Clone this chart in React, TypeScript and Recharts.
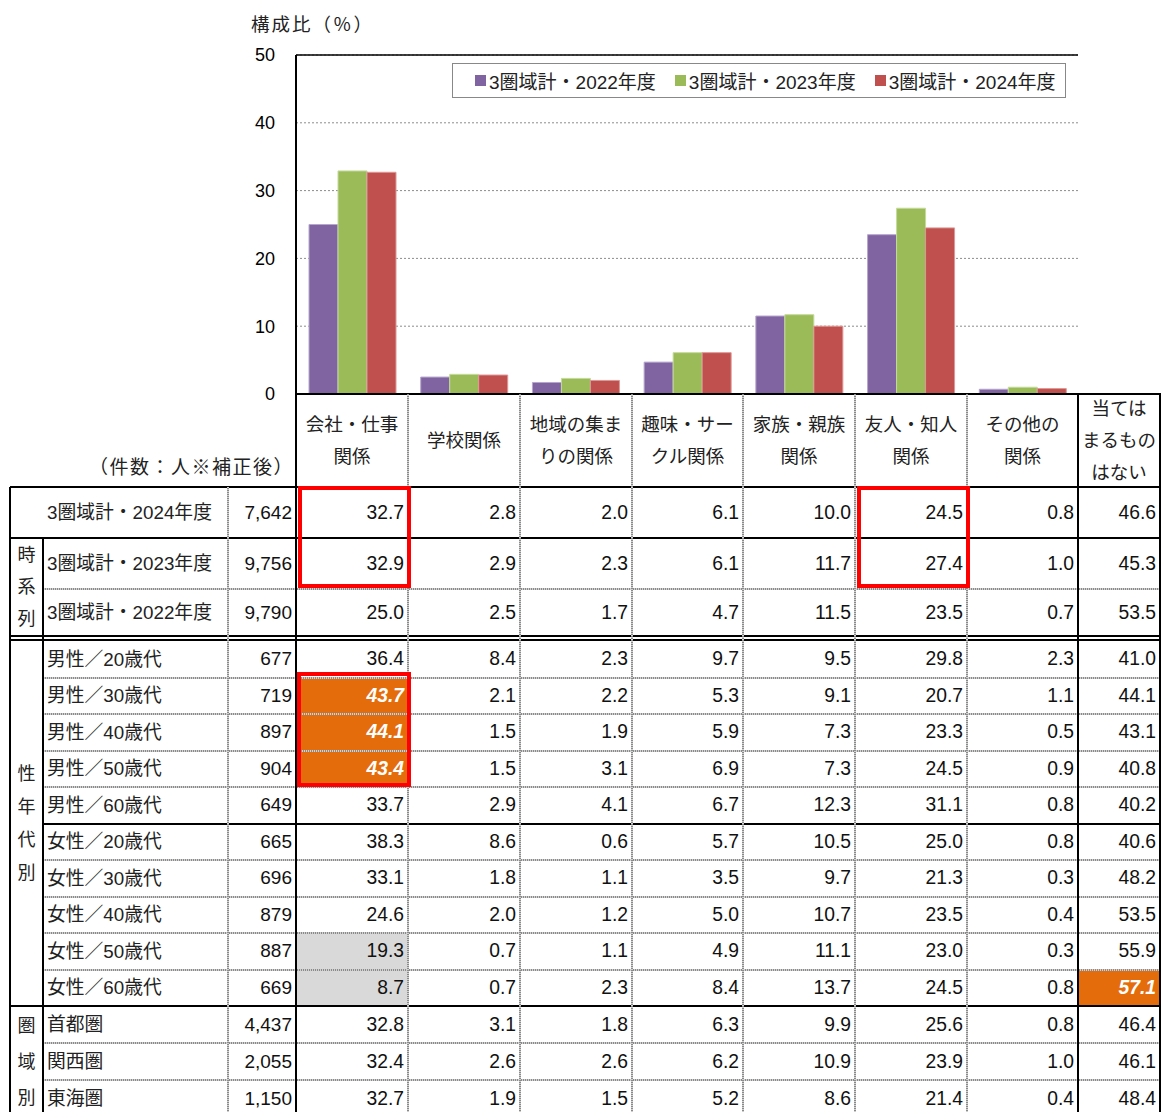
import React from 'react';
import { BarChart, Bar, XAxis, YAxis, CartesianGrid, Legend, ReferenceLine } from 'recharts';

const FONT = '"Liberation Sans", Arial, "Noto Sans CJK JP", sans-serif';

const categories = ['会社・仕事関係', '学校関係', '地域の集まりの関係', '趣味・サークル関係', '家族・親族関係', '友人・知人関係', 'その他の関係'];
const columnHeaders = [
  ['会社・仕事', '関係'],
  ['学校関係'],
  ['地域の集ま', 'りの関係'],
  ['趣味・サー', 'クル関係'],
  ['家族・親族', '関係'],
  ['友人・知人', '関係'],
  ['その他の', '関係'],
  ['当ては', 'まるもの', 'はない'],
];
const seriesNames = ['3圏域計・2022年度', '3圏域計・2023年度', '3圏域計・2024年度'];
const seriesKeys = ['y2022', 'y2023', 'y2024'];
const seriesColors = ['#8064A2', '#9BBB59', '#C0504D'];
const seriesEdges = ['#b7a6cc', '#c4da9c', '#dc9896'];

// 時系列
const trendLabels = ['3圏域計・2024年度', '3圏域計・2023年度', '3圏域計・2022年度'];
const trendCounts = ['7,642', '9,756', '9,790'];
const values2024 = [32.7, 2.8, 2.0, 6.1, 10.0, 24.5, 0.8, 46.6];
const values2023 = [32.9, 2.9, 2.3, 6.1, 11.7, 27.4, 1.0, 45.3];
const values2022 = [25.0, 2.5, 1.7, 4.7, 11.5, 23.5, 0.7, 53.5];

// 性年代別
const ageLabels = ['男性／20歳代', '男性／30歳代', '男性／40歳代', '男性／50歳代', '男性／60歳代', '女性／20歳代', '女性／30歳代', '女性／40歳代', '女性／50歳代', '女性／60歳代'];
const ageCounts = ['677', '719', '897', '904', '649', '665', '696', '879', '887', '669'];
const ageValues = [
  [36.4, 8.4, 2.3, 9.7, 9.5, 29.8, 2.3, 41.0],
  [43.7, 2.1, 2.2, 5.3, 9.1, 20.7, 1.1, 44.1],
  [44.1, 1.5, 1.9, 5.9, 7.3, 23.3, 0.5, 43.1],
  [43.4, 1.5, 3.1, 6.9, 7.3, 24.5, 0.9, 40.8],
  [33.7, 2.9, 4.1, 6.7, 12.3, 31.1, 0.8, 40.2],
  [38.3, 8.6, 0.6, 5.7, 10.5, 25.0, 0.8, 40.6],
  [33.1, 1.8, 1.1, 3.5, 9.7, 21.3, 0.3, 48.2],
  [24.6, 2.0, 1.2, 5.0, 10.7, 23.5, 0.4, 53.5],
  [19.3, 0.7, 1.1, 4.9, 11.1, 23.0, 0.3, 55.9],
  [8.7, 0.7, 2.3, 8.4, 13.7, 24.5, 0.8, 57.1],
];

// 圏域別
const areaLabels = ['首都圏', '関西圏', '東海圏'];
const areaCounts = ['4,437', '2,055', '1,150'];
const areaValues = [
  [32.8, 3.1, 1.8, 6.3, 9.9, 25.6, 0.8, 46.4],
  [32.4, 2.6, 2.6, 6.2, 10.9, 23.9, 1.0, 46.1],
  [32.7, 1.9, 1.5, 5.2, 8.6, 21.4, 0.4, 48.4],
];

const yTicks = [0, 10, 20, 30, 40, 50];

const chartData = categories.map((name, i) => ({
  name,
  y2022: values2022[i],
  y2023: values2023[i],
  y2024: values2024[i],
}));

// table layout
const COL_X = [10, 43, 228, 296, 408, 520, 632, 743, 855, 967, 1078, 1160];
const HEADER_TOP = 394;
const HEADER_BOTTOM = 487;
const TABLE_BOTTOM = 1117;

type Row = { label: string; count: string; values: number[]; top: number; bottom: number };

const trendRows: Row[] = [
  { label: trendLabels[0], count: trendCounts[0], values: values2024, top: 487, bottom: 538 },
  { label: trendLabels[1], count: trendCounts[1], values: values2023, top: 538, bottom: 589 },
  { label: trendLabels[2], count: trendCounts[2], values: values2022, top: 589, bottom: 636 },
];
const ageRows: Row[] = ageLabels.map((label, i) => ({
  label, count: ageCounts[i], values: ageValues[i], top: 641 + i * 36.5, bottom: 641 + (i + 1) * 36.5,
}));
const areaRows: Row[] = areaLabels.map((label, i) => ({
  label, count: areaCounts[i], values: areaValues[i], top: 1006 + i * 37, bottom: 1006 + (i + 1) * 37,
}));
const rows = [...trendRows, ...ageRows, ...areaRows];

const orangeCells = [[4, 0], [5, 0], [6, 0], [12, 7]];
const grayCells = [[11, 0], [12, 0]];

const groups = [
  { chars: ['時', '系', '列'], top: 538, bottom: 636, step: 32 },
  { chars: ['性', '年', '代', '別'], top: 641, bottom: 1006, step: 33 },
  { chars: ['圏', '域', '別'], top: 1006, bottom: 1117, step: 36 },
];

const redBoxes = [
  { left: 298, top: 486, width: 113, height: 102 },
  { left: 857, top: 486, width: 113, height: 102 },
  { left: 297, top: 672, width: 114, height: 115 },
];

const dotH = 'repeating-linear-gradient(90deg, #8a8a8a 0 1px, #d0d0d0 1px 2px)';
const dotV = 'repeating-linear-gradient(0deg, #8a8a8a 0 1px, #d0d0d0 1px 2px)';

function HLine({ y, x1, x2, dotted }: { y: number; x1: number; x2: number; dotted?: boolean }) {
  return (
    <div
      style={{
        position: 'absolute', left: x1, top: y - 1, width: x2 - x1 + 1, height: 2,
        background: dotted ? dotH : '#000',
      }}
    />
  );
}

function VLine({ x, y1, y2, dotted }: { x: number; y1: number; y2: number; dotted?: boolean }) {
  return (
    <div
      style={{
        position: 'absolute', left: x - 1, top: y1, width: 2, height: y2 - y1,
        background: dotted ? dotV : '#000',
      }}
    />
  );
}

const renderLegend = () => (
  <div
    style={{
      width: 614, height: 35, boxSizing: 'border-box', border: '1.5px solid #888',
      background: '#fff', display: 'flex', alignItems: 'center', paddingLeft: 22,
      fontFamily: FONT, fontSize: 19, color: '#222', whiteSpace: 'nowrap', overflow: 'hidden',
    }}
  >
    {seriesNames.map((name, i) => (
      <div key={name} style={{ display: 'flex', alignItems: 'center', marginRight: 19, flexShrink: 0 }}>
        <div style={{ width: 11, height: 11, background: seriesColors[i], marginRight: 3, flexShrink: 0 }} />
        <span>{name}</span>
      </div>
    ))}
  </div>
);

export default function App() {
  const hLines: { y: number; x1: number; x2: number; dotted?: boolean }[] = [
    { y: HEADER_TOP, x1: 296, x2: 1160 },
    { y: 487, x1: 10, x2: 1160 },
    { y: 538, x1: 10, x2: 1160 },
    { y: 589, x1: 43, x2: 1160, dotted: true },
    { y: 636, x1: 10, x2: 1160 },
    { y: 640, x1: 10, x2: 1160 },
    { y: 1006, x1: 10, x2: 1160 },
  ];
  ageRows.slice(0, -1).forEach((r, i) => {
    hLines.push({ y: Math.round(r.bottom), x1: 43, x2: 1160, dotted: i !== 4 });
  });
  areaRows.slice(0, -1).forEach((r) => {
    hLines.push({ y: r.bottom, x1: 43, x2: 1160, dotted: true });
  });

  const vLines: { x: number; y1: number; y2: number; dotted?: boolean }[] = [
    { x: 10, y1: 487, y2: TABLE_BOTTOM },
    { x: 43, y1: 538, y2: TABLE_BOTTOM },
    { x: 228, y1: 487, y2: TABLE_BOTTOM, dotted: true },
    { x: 296, y1: HEADER_TOP, y2: TABLE_BOTTOM },
    { x: 1078, y1: HEADER_TOP, y2: TABLE_BOTTOM },
    { x: 1160, y1: HEADER_TOP, y2: TABLE_BOTTOM },
  ];
  [408, 520, 632, 743, 855, 967].forEach((x) => vLines.push({ x, y1: HEADER_TOP, y2: TABLE_BOTTOM, dotted: true }));

  return (
    <div
      style={{
        position: 'absolute', left: 0, top: 0, width: 1161, height: 1112, overflow: 'hidden',
        background: '#fff', fontFamily: FONT, color: '#111',
      }}
    >
      <div
        style={{
          position: 'absolute', left: 251, top: 12, fontSize: 18.5, lineHeight: '26px', color: '#222',
          letterSpacing: 2, whiteSpace: 'nowrap',
        }}
      >
        構成比（％）
      </div>

      <div style={{ position: 'absolute', left: 0, top: 0 }}>
        <BarChart
          width={1161}
          height={412}
          data={chartData}
          margin={{ top: 55, right: 83, bottom: 18, left: 236 }}
          barGap={0}
          barCategoryGap={13}
        >
          <CartesianGrid vertical={false} stroke="#8c8c8c" strokeDasharray="2 2" />
          <XAxis dataKey="name" hide />
          <YAxis
            domain={[0, 50]}
            ticks={yTicks}
            interval={0}
            width={60}
            tickLine={false}
            tickMargin={15}
            axisLine={{ stroke: '#000', strokeWidth: 2 }}
            tick={{ fill: '#000', fontSize: 18, fontFamily: FONT }}
          />
          <YAxis
            yAxisId="right"
            orientation="right"
            domain={[0, 50]}
            width={0}
            tick={false}
            tickLine={false}
            axisLine={{ stroke: '#000', strokeWidth: 1.5 }}
          />
          <ReferenceLine y={50} stroke="#000" strokeWidth={1.5} />
          {seriesKeys.map((key, i) => (
            <Bar
              key={key}
              dataKey={key}
              name={seriesNames[i]}
              fill={seriesColors[i]}
              stroke={seriesEdges[i]}
              strokeWidth={1}
              isAnimationActive={false}
            />
          ))}
          <Legend
            content={renderLegend}
            layout="horizontal"
            verticalAlign="middle"
            align="center"
            wrapperStyle={{ left: 452, top: 63, width: 614, height: 35 }}
          />
        </BarChart>
      </div>

      {/* table: header */}
      <div
        style={{
          position: 'absolute', left: 20, width: 274, top: 452, height: 32, textAlign: 'right',
          fontSize: 19, lineHeight: '32px', color: '#222', letterSpacing: 1.5, whiteSpace: 'nowrap',
        }}
      >
        （件数：人※補正後）
      </div>
      {columnHeaders.map((lines, j) => (
        <div
          key={j}
          style={{
            position: 'absolute', left: COL_X[3 + j], width: COL_X[4 + j] - COL_X[3 + j],
            top: HEADER_TOP, height: HEADER_BOTTOM - HEADER_TOP, display: 'flex', flexDirection: 'column',
            justifyContent: 'center', alignItems: 'center', fontSize: 18.5, lineHeight: '32px', color: '#222',
          }}
        >
          {lines.map((l) => (
            <div key={l}>{l}</div>
          ))}
        </div>
      ))}

      {/* fills */}
      {grayCells.map(([r, c]) => (
        <div
          key={`g${r}-${c}`}
          style={{
            position: 'absolute', left: COL_X[3 + c], top: rows[r].top, width: COL_X[4 + c] - COL_X[3 + c],
            height: rows[r].bottom - rows[r].top, background: '#d9d9d9',
          }}
        />
      ))}
      {orangeCells.map(([r, c]) => (
        <div
          key={`o${r}-${c}`}
          style={{
            position: 'absolute', left: COL_X[3 + c], top: rows[r].top, width: COL_X[4 + c] - COL_X[3 + c],
            height: rows[r].bottom - rows[r].top, background: '#E46C0A',
          }}
        />
      ))}

      {/* lines */}
      {hLines.map((l, i) => (
        <HLine key={`h${i}`} {...l} />
      ))}
      {vLines.map((l, i) => (
        <VLine key={`v${i}`} {...l} />
      ))}

      {/* group labels */}
      {groups.map((g, gi) => (
        <div
          key={gi}
          style={{
            position: 'absolute', left: 10, width: 33, top: g.top, height: g.bottom - g.top,
            display: 'flex', flexDirection: 'column', justifyContent: 'center', alignItems: 'center',
            fontSize: 18, lineHeight: `${g.step}px`, color: '#222',
          }}
        >
          {g.chars.map((ch, k) => (
            <div key={k}>{ch}</div>
          ))}
        </div>
      ))}

      {/* rows */}
      {rows.map((r, ri) => {
        const h = r.bottom - r.top;
        return (
          <React.Fragment key={ri}>
            <div
              style={{
                position: 'absolute', left: 47, top: r.top - 2, height: h, display: 'flex', alignItems: 'center',
                fontSize: 18.8, color: '#222', whiteSpace: 'nowrap',
              }}
            >
              {r.label}
            </div>
            <div
              style={{
                position: 'absolute', left: 228, width: 64, top: r.top, height: h, display: 'flex',
                alignItems: 'center', justifyContent: 'flex-end', fontSize: 19, color: '#111',
              }}
            >
              {r.count}
            </div>
            {r.values.map((v, c) => {
              const hot = orangeCells.some(([rr, cc]) => rr === ri && cc === c);
              return (
                <div
                  key={c}
                  style={{
                    position: 'absolute', left: COL_X[3 + c], width: COL_X[4 + c] - COL_X[3 + c] - 4,
                    top: r.top, height: h, display: 'flex', alignItems: 'center', justifyContent: 'flex-end',
                    fontSize: 19.3, color: hot ? '#fff' : '#111', fontWeight: hot ? 700 : 400,
                    fontStyle: hot ? 'italic' : 'normal',
                  }}
                >
                  {v.toFixed(1)}
                </div>
              );
            })}
          </React.Fragment>
        );
      })}

      {/* red emphasis boxes */}
      {redBoxes.map((b, i) => (
        <div
          key={`r${i}`}
          style={{
            position: 'absolute', left: b.left, top: b.top, width: b.width, height: b.height,
            boxSizing: 'border-box', border: '4px solid #ff0000',
          }}
        />
      ))}
    </div>
  );
}
